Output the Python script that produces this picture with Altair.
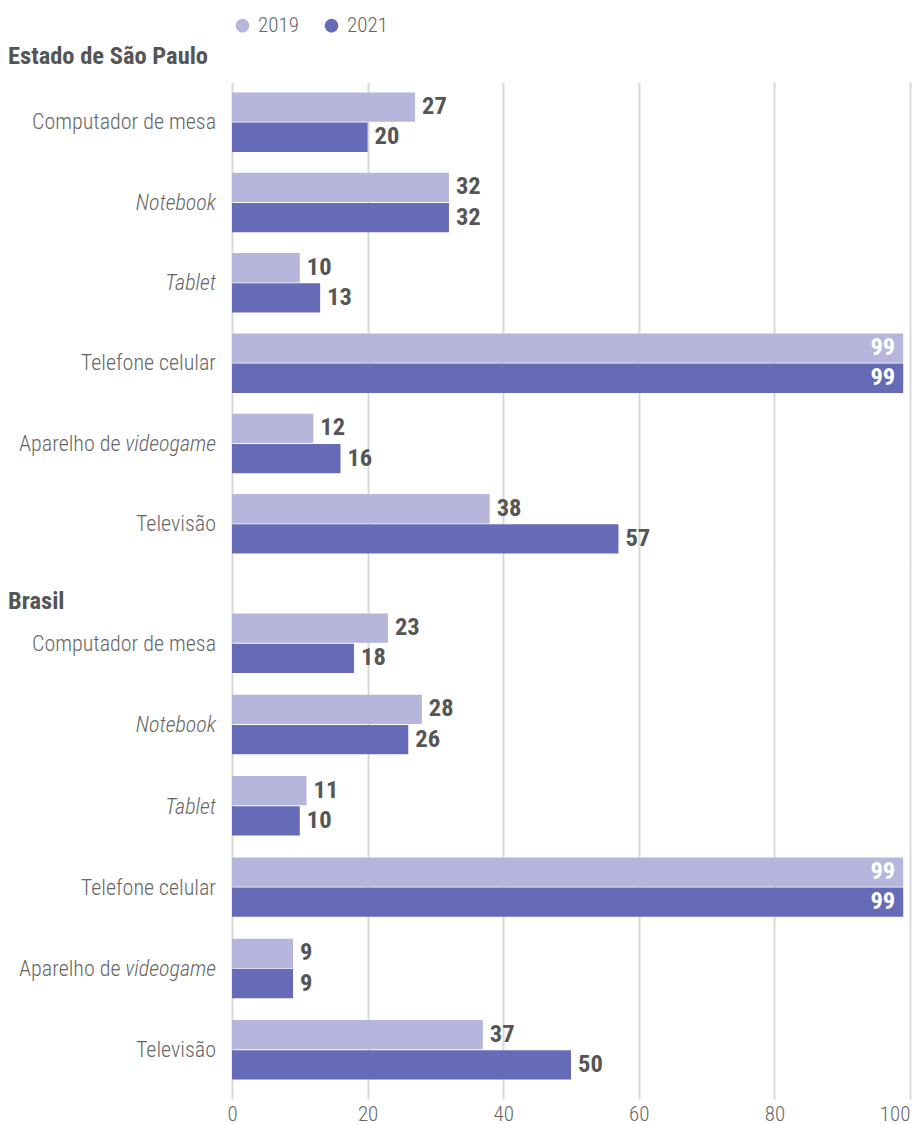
import altair as alt
import pandas as pd

categories = ["Computador de mesa", "Notebook", "Tablet", "Telefone celular",
              "Aparelho de videogame", "Televisão"]
label_plain = ["Computador de mesa", "", "", "Telefone celular", "Aparelho de", "Televisão"]
label_italic = ["", "Notebook", "Tablet", "", "videogame", ""]
years = ["2019", "2021"]
regions = ["Estado de São Paulo", "Brasil"]
sp_2019 = [27, 32, 10, 99, 12, 38]
sp_2021 = [20, 32, 13, 99, 16, 57]
br_2019 = [23, 28, 11, 99, 9, 37]
br_2021 = [18, 26, 10, 99, 9, 50]
x_ticks = [0, 20, 40, 60, 80, 100]

COL_19 = "#b6b6dc"
COL_21 = "#666bb7"
TXT = "#666666"
VAL = "#555555"
FONT = "Liberation Sans Narrow, Arial Narrow, Roboto Condensed, sans-serif"
LBL_SIZE = 22

values = {"Estado de São Paulo": (sp_2019, sp_2021), "Brasil": (br_2019, br_2021)}

labels_df = pd.DataFrame({"category": categories, "plain": label_plain, "ital": label_italic})


def panel(region, height, pad_inner, pad_outer, align, show_axis, show_legend, header_y):
    v19, v21 = values[region]
    rows = []
    for c, a, b in zip(categories, v19, v21):
        rows.append({"category": c, "year": "2019", "value": a})
        rows.append({"category": c, "year": "2021", "value": b})
    df = pd.DataFrame(rows)

    yscale = alt.Scale(paddingInner=pad_inner, paddingOuter=pad_outer, align=align)
    y = alt.Y("category:N", sort=categories, axis=None, scale=yscale)
    x = alt.X(
        "value:Q",
        scale=alt.Scale(domain=[0, 100], nice=False),
        axis=alt.Axis(
            values=x_ticks, grid=True, gridColor="#d9d9d9", gridWidth=2,
            domain=False, ticks=False, labels=show_axis, title=None,
            labelFont=FONT, labelFontSize=21, labelColor=TXT, labelPadding=4,
            labelFontWeight=300,
            labelAlign={"condition": {"test": "datum.value == 100", "value": "right"}, "value": "center"},
        ),
    )
    yoff = alt.YOffset("year:N", sort=years, scale=alt.Scale(paddingInner=0.03))
    if show_legend:
        legend = alt.Legend(
            title=None, orient="none", legendX=0, legendY=-67, direction="horizontal",
            symbolType="circle", symbolSize=190, symbolStrokeWidth=0, symbolOpacity=1,
            labelFont=FONT, labelFontSize=21, labelColor=TXT, labelOffset=5,
            labelFontWeight=300, columnPadding=22,
        )
    else:
        legend = None
    color = alt.Color("year:N", scale=alt.Scale(domain=years, range=[COL_19, COL_21]), legend=legend)

    base = alt.Chart(df)
    bars = base.mark_bar().encode(x=x, y=y, yOffset=yoff, color=color)
    out_lbl = base.transform_filter("datum.value < 90").mark_text(
        align="left", baseline="middle", dx=7, font=FONT, fontSize=24.5, fontWeight="bold", color=VAL
    ).encode(x=x, y=y, yOffset=yoff, text="value:Q")
    in_lbl = base.transform_filter("datum.value >= 90").mark_text(
        align="right", baseline="middle", dx=-8, font=FONT, fontSize=24.5, fontWeight="bold", color="white"
    ).encode(x=x, y=y, yOffset=yoff, text="value:Q")

    lab = alt.Chart(labels_df)
    plain_only = lab.transform_filter("datum.ital == ''").mark_text(
        align="right", baseline="middle", font=FONT, fontSize=LBL_SIZE, fontWeight=300, color=TXT
    ).encode(x=alt.value(-16), y=y, text="plain:N")
    ital = lab.transform_filter("datum.ital != ''").mark_text(
        align="right", baseline="middle", font=FONT, fontSize=LBL_SIZE, fontWeight=300,
        fontStyle="italic", color=TXT
    ).encode(x=alt.value(-16), y=y, text="ital:N")
    mixed = lab.transform_filter("datum.ital != '' && datum.plain != ''").mark_text(
        align="right", baseline="middle", font=FONT, fontSize=LBL_SIZE, fontWeight=300, color=TXT, dx=-95.5
    ).encode(x=alt.value(-16), y=y, text="plain:N")

    header = alt.Chart(pd.DataFrame({"region": [region]})).mark_text(
        align="left", baseline="middle", font=FONT, fontSize=24.5, fontWeight="bold", color=VAL
    ).encode(x=alt.value(-224), y=alt.value(header_y), text="region:N")

    return alt.layer(bars, out_lbl, in_lbl, plain_only, ital, mixed, header).properties(
        width=678, height=height
    )


p1 = panel("Estado de São Paulo", 482, 0.26, 0.13, 0.5, False, True, -25)
p2 = panel("Brasil", 535, 0.25, 0.415, 0.733, True, False, 38)

chart = alt.vconcat(p1, p2, spacing=0).resolve_scale(color="independent").properties(
    padding={"left": 8, "top": 15, "right": 2, "bottom": 2}
).configure_view(stroke=None)

chart.save("out.html", embed_options={"renderer": "svg", "actions": False})
